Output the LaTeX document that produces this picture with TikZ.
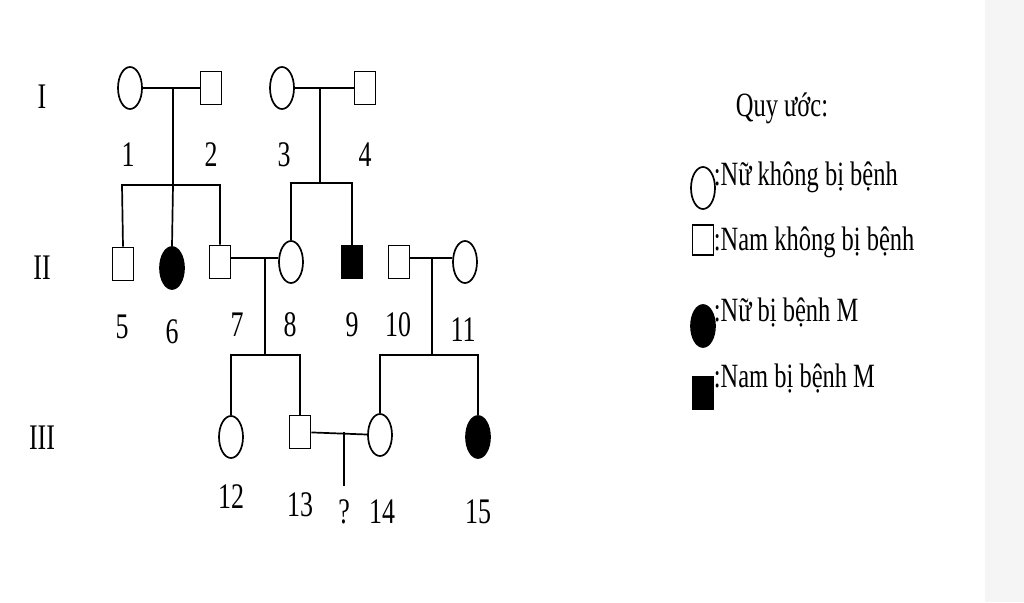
\documentclass[tikz,border=0pt]{standalone}
\usepackage{fontspec}
\setmainfont[FakeStretch=0.72]{Liberation Serif}
\usetikzlibrary{positioning, shapes.geometric}
\begin{document}
\begin{tikzpicture}[x=1pt, y=-1pt, line width=1.7pt]
\tikzstyle{fem}=[ellipse, draw, minimum width=24pt, minimum height=42pt, inner sep=0pt];
\tikzstyle{mal}=[rectangle, draw, minimum width=21pt, minimum height=33pt, inner sep=0pt];
\tikzstyle{sick}=[fill=black];
\tikzstyle{lab}=[font=\fontsize{36}{36}\selectfont, inner sep=0pt];
\tikzstyle{leg}=[font=\fontsize{34}{34}\selectfont, inner sep=0pt, anchor=west];
\useasboundingbox (0,0) rectangle (1024,602);
\fill[gray!8] (985,0) rectangle (1024,602);
% generation I
\node[fem] (p1) at (130,88) {};
\node[mal] (p2) at (211,88) {};
\node[fem] (p3) at (282,88) {};
\node[mal] (p4) at (365,88) {};
% generation II
\node[mal] (p5) at (123,264) {};
\node[fem, sick] (p6) at (172,268) {};
\node[mal] (p7) at (220,262) {};
\node[fem] (p8) at (291,262) {};
\node[mal, sick] (p9) at (352,262) {};
\node[mal] (p10) at (399,262) {};
\node[fem] (p11) at (465,262) {};
% generation III
\node[fem] (p12) at (231,437) {};
\node[mal] (p13) at (300,432) {};
\node[fem] (p14) at (380,435) {};
\node[fem, sick] (p15) at (478,437) {};
% marriages
\draw (p1) -- (p2); \draw (p3) -- (p4);
\draw (p7.east |- 0,258) -- (p8.west |- 0,258);
\draw (p10.east |- 0,258) -- (p11.west |- 0,258);
\draw (p13) -- (p14);
\coordinate (m12) at (173,88); \coordinate (m34) at (320,88);
\coordinate (m78) at (265,258); \coordinate (m1011) at (432,258);
\coordinate (m1314) at (344,432); \coordinate (q) at (344,486);
% descents
\draw (m12) -- (173,185); \draw (p5.north) -- (122,185) -- (220,185) -- (p7.north);
\draw (173,185) -- (p6.north);
\draw (m34) -- (320,183); \draw (p8.north) -- (291,183) -- (352,183) -- (p9.north);
\draw (m78) -- (265,355); \draw (p12.north) -- (231,355) -- (300,355) -- (p13.north);
\draw (m1011) -- (432,355); \draw (p14.north) -- (380,355) -- (478,355) -- (p15.north);
\draw (m1314) -- (q);
% labels
\foreach \n/\x/\y in {1/128/155,2/211/155,3/284/155,4/365/155,5/122/327,6/172/332,7/237/325,8/290/325,9/352/325,10/398/325,11/463/330,12/231/497,13/300/505,14/382/512,15/478/512}
{\node[lab] (l\n) at (\x,\y) {\n};}
\node[lab] (lq) at (344,512) {?};
\node[lab] (g1) at (42,97) {I};
\node[lab] (g2) at (42,268) {II};
\node[lab] (g3) at (42,438) {III};
% legend
\node[leg, anchor=center] (key) at (782,108) {Quy ước:};
\node[fem] (kf) at (703,188) {};
\node[leg] at (713,177) {:Nữ không bị bệnh};
\node[mal, minimum height=30pt] (km) at (703,240) {};
\node[leg] at (713,242) {:Nam không bị bệnh};
\node[fem, sick] (kfs) at (703,326) {};
\node[leg] at (713,312) {:Nữ bị bệnh M};
\node[mal, sick] (kms) at (703,393) {};
\node[leg] at (713,378) {:Nam bị bệnh M};
\end{tikzpicture}
\end{document}
